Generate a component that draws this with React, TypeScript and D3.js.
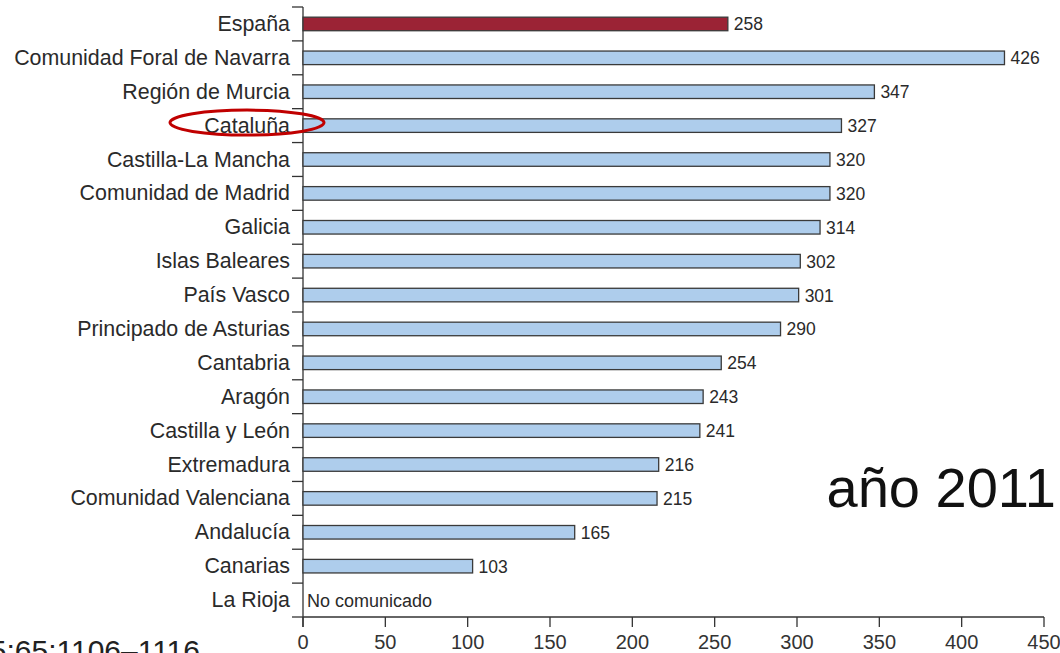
import React from "react";
import * as d3 from "d3";

const categories = [
  "España",
  "Comunidad Foral de Navarra",
  "Región de Murcia",
  "Cataluña",
  "Castilla-La Mancha",
  "Comunidad de Madrid",
  "Galicia",
  "Islas Baleares",
  "País Vasco",
  "Principado de Asturias",
  "Cantabria",
  "Aragón",
  "Castilla y León",
  "Extremadura",
  "Comunidad Valenciana",
  "Andalucía",
  "Canarias",
  "La Rioja",
];
const values: (number | null)[] = [258, 426, 347, 327, 320, 320, 314, 302, 301, 290, 254, 243, 241, 216, 215, 165, 103, null];
const xTicks = [0, 50, 100, 150, 200, 250, 300, 350, 400, 450];
const highlight = "España";
const circled = "Cataluña";
const missingLabel = "No comunicado";
const yearLabel = "año 2011";
const citation = "2015;65:1106–1116";

const W = 1060;
const H = 653;
const FONT = "'Liberation Sans', Arial, sans-serif";

export default function App() {
  const x = d3.scaleLinear().domain([0, 450]).range([303, 1044]);
  const y = d3.scaleBand().domain(categories).range([7, 617]).paddingInner(0.6).paddingOuter(0.3);
  const yb = d3.scaleBand().domain(categories).range([7, 617]);
  const bh = y.bandwidth();
  const boundaries = categories.map((c) => yb(c)!).concat([617]);
  const cy = yb(circled)! + yb.bandwidth() / 2;

  return (
    <svg width={W} height={H} style={{ position: "absolute", left: 0, top: 0, background: "#fff" }} fontFamily={FONT}>
      {/* y axis */}
      <line x1={303} x2={303} y1={7} y2={627} stroke="#333" strokeWidth={1.3} />
      {boundaries.map((b, i) => (
        <line key={i} x1={292} x2={303} y1={b} y2={b} stroke="#333" strokeWidth={1.3} />
      ))}
      {/* x axis */}
      <line x1={303} x2={x(450)} y1={617} y2={617} stroke="#333" strokeWidth={1.3} />
      {xTicks.map((t) => (
        <g key={t}>
          <line x1={x(t)} x2={x(t)} y1={617} y2={627} stroke="#333" strokeWidth={1.3} />
          <text x={x(t)} y={649} textAnchor="middle" fontSize={20} fill="#333">{t}</text>
        </g>
      ))}
      {/* bars */}
      {categories.map((c, i) => {
        const v = values[i];
        const mid = yb(c)! + yb.bandwidth() / 2;
        return (
          <g key={c}>
            <text x={290} y={mid + 7} textAnchor="end" fontSize={21.4} fill="#2a2a2a">{c}</text>
            {v !== null ? (
              <>
                <rect x={x(0)} y={mid - bh / 2} width={x(v) - x(0)} height={bh}
                  fill={c === highlight ? "#9b2335" : "#aecdec"} stroke="#3a3a3a" strokeWidth={1.3} />
                <text x={x(v) + 6} y={mid + 6.5} fontSize={17.5} fill="#2a2a2a">{v}</text>
              </>
            ) : (
              <text x={307} y={mid + 7} fontSize={18} fill="#2a2a2a">{missingLabel}</text>
            )}
          </g>
        );
      })}
      {/* circled highlight */}
      <ellipse cx={247} cy={cy - 3} rx={77} ry={12.5} fill="none" stroke="#c00000" strokeWidth={3} />
      <text x={1056} y={507} textAnchor="end" fontSize={56} fill="#111">{yearLabel}</text>
      <text x={200} y={661} textAnchor="end" fontSize={30} fill="#222">{citation}</text>
    </svg>
  );
}
